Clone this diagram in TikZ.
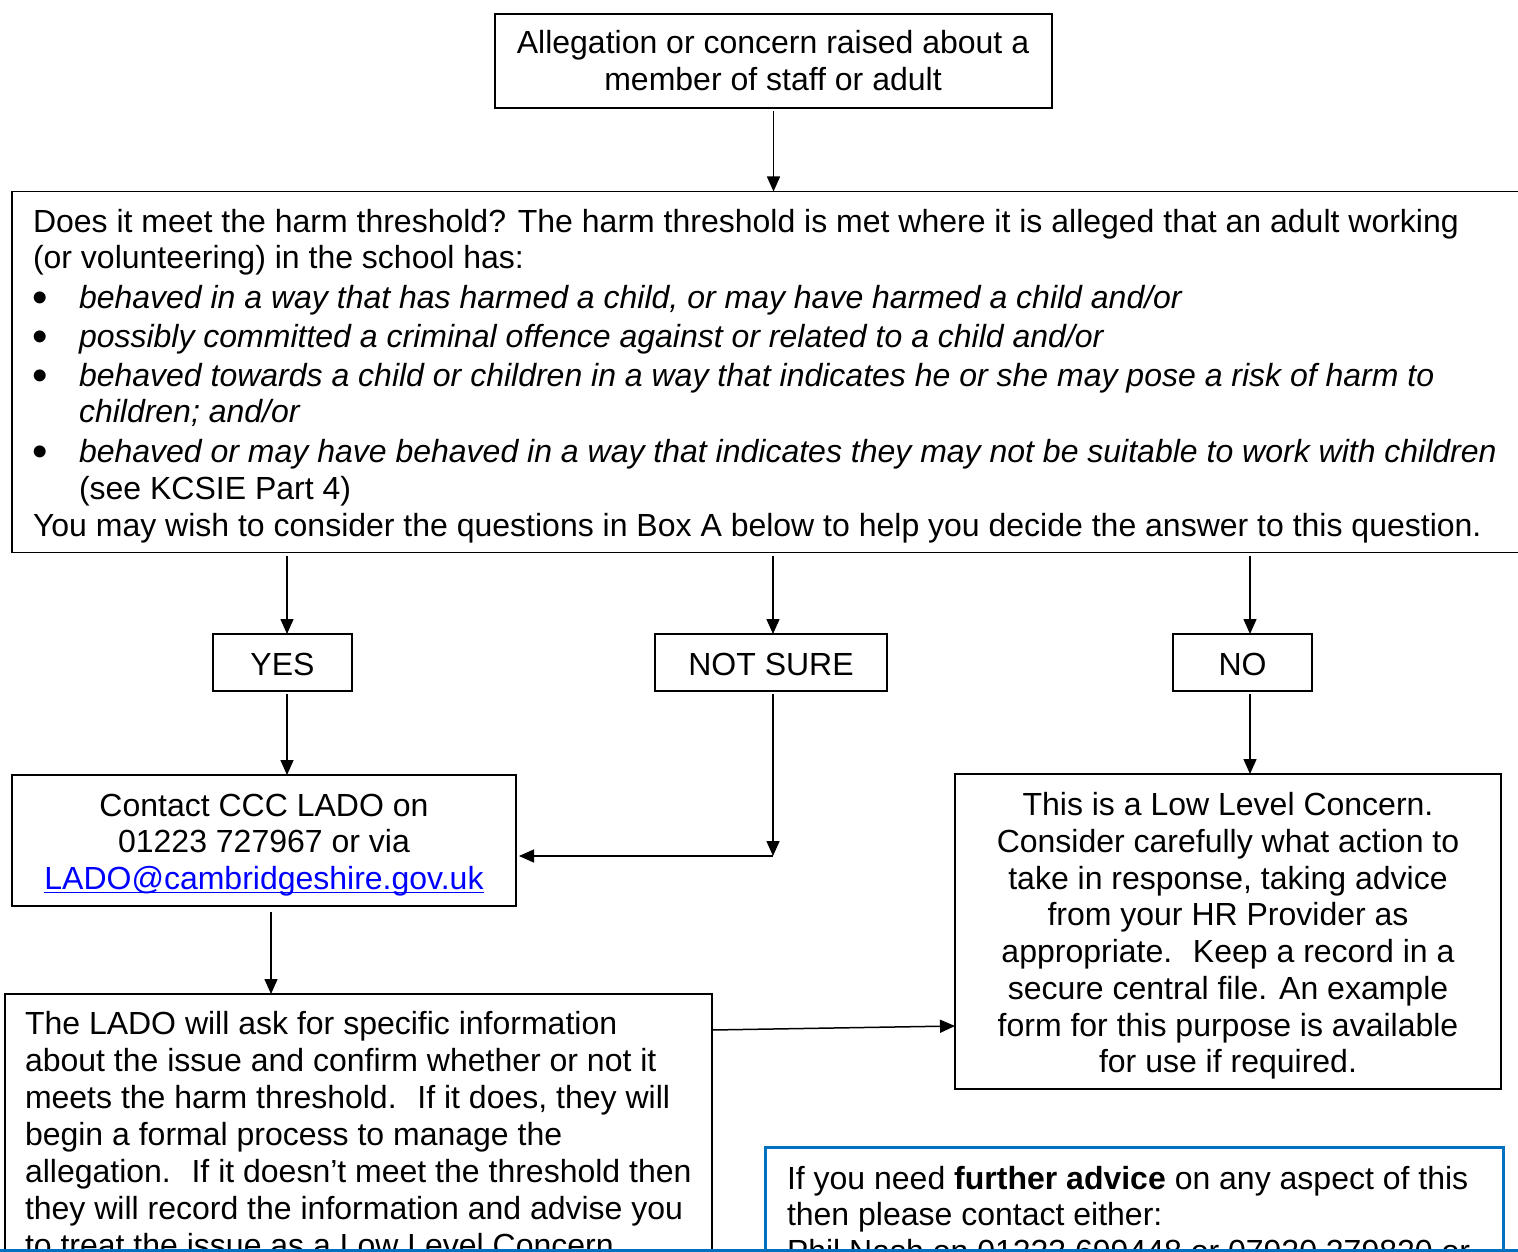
\documentclass[tikz,border=0pt]{standalone}
\usepackage{fontspec}
\setmainfont{Liberation Sans}
\usetikzlibrary{arrows.meta}
\definecolor{bluebox}{RGB}{0,112,192}
\definecolor{linkblue}{RGB}{0,0,255}
\begin{document}
\begin{tikzpicture}[x=1pt,y=-1pt,
  box/.style={draw, line width=1.6pt, inner sep=0pt, outer sep=0pt, anchor=north west},
  txt/.style={inner sep=0pt, outer sep=0pt, font=\fontsize{32}{37}\selectfont},
  ltxt/.style={txt, anchor=base west},
  ctxt/.style={txt, anchor=base},
  bul/.style={inner sep=0pt, outer sep=0pt, anchor=base west, font=\fontsize{44}{44}\selectfont},
  arr/.style={line width=1.5pt, -{Triangle[length=15pt,width=13pt]}, shorten <=3pt}]
\useasboundingbox (0,0) rectangle (1518,1252);
\fill[white] (0,0) rectangle (1518,1252);
\clip (0,0) rectangle (1518,1252);

% top box
\node[box, minimum width=557pt, minimum height=94pt] (top) at (495,14) {};
\node[ctxt] (t1) at (773,54) {Allegation or concern raised about a};
\node[ctxt] (t2) at (773,91) {member of staff or adult};

% big question box
\node[box, minimum width=1530pt, minimum height=361pt] (big) at (12,191.5) {};
\node[ltxt] (q1) at (33,233) {Does it meet the harm threshold? The harm threshold is met where it is alleged that an adult working};
\node[ltxt] (q2) at (33,269) {(or volunteering) in the school has:};
\node[bul] (b1) at (32,312) {•};
\node[ltxt] (q3) at (79,308) {\itshape behaved in a way that has harmed a child, or may have harmed a child and/or};
\node[bul] (b2) at (32,351) {•};
\node[ltxt] (q4) at (79,347) {\itshape possibly committed a criminal offence against or related to a child and/or};
\node[bul] (b3) at (32,390) {•};
\node[ltxt] (q5) at (79,386) {\itshape behaved towards a child or children in a way that indicates he or she may pose a risk of harm to};
\node[ltxt] (q6) at (79,422) {\itshape children; and/or};
\node[bul] (b4) at (32,466) {•};
\node[ltxt] (q7) at (79,462) {\itshape behaved or may have behaved in a way that indicates they may not be suitable to work with children};
\node[ltxt] (q8) at (79,499) {(see KCSIE Part 4)};
\node[ltxt] (q9) at (33,536) {You may wish to consider the questions in Box A below to help you decide the answer to this question.};

% answer boxes
\node[box, minimum width=139pt, minimum height=57pt] (yes) at (213,634) {};
\node[ctxt] (yest) at (282.5,675.5) {YES};
\node[box, minimum width=232pt, minimum height=57pt] (notsure) at (655,634) {};
\node[ctxt] (notsuret) at (771,675.5) {NOT SURE};
\node[box, minimum width=139pt, minimum height=57pt] (no) at (1173,634) {};
\node[ctxt] (not) at (1242.5,675.5) {NO};

% contact box
\node[box, minimum width=504pt, minimum height=131pt] (contact) at (12,775) {};
\node[ctxt] (c1) at (264,816) {Contact CCC LADO on};
\node[ctxt] (c2) at (264,852) {01223 727967 or via};
\node[ctxt, text=linkblue] (link) at (264,889) {LADO@cambridgeshire.gov.uk};
\draw[linkblue, line width=1.5pt] ([yshift=-3.5pt]link.base west) -- ([yshift=-3.5pt]link.base east);

% low level box
\node[box, minimum width=546pt, minimum height=315pt] (low) at (955,774) {};
\node[ctxt] (l1) at (1228,815) {This is a Low Level Concern.};
\node[ctxt] (l2) at (1228,852) {Consider carefully what action to};
\node[ctxt] (l3) at (1228,889) {take in response, taking advice};
\node[ctxt] (l4) at (1228,925) {from your HR Provider as};
\node[ctxt] (l5) at (1228,962) {appropriate.~ Keep a record in a};
\node[ctxt] (l6) at (1228,999) {secure central file. An example};
\node[ctxt] (l7) at (1228,1036) {form for this purpose is available};
\node[ctxt] (l8) at (1228,1072) {for use if required.};

% LADO box
\node[box, minimum width=707pt, minimum height=400pt] (lado) at (5,994) {};
\node[ltxt] (d1) at (25,1034) {The LADO will ask for specific information};
\node[ltxt] (d2) at (25,1071) {about the issue and confirm whether or not it};
\node[ltxt] (d3) at (25,1108) {meets the harm threshold.~ If it does, they will};
\node[ltxt] (d4) at (25,1145) {begin a formal process to manage the};
\node[ltxt] (d5) at (25,1182) {allegation.~ If it doesn’t meet the threshold then};
\node[ltxt] (d6) at (25,1219) {they will record the information and advise you};
\node[ltxt] (d7) at (25,1256) {to treat the issue as a Low Level Concern.};

% further advice box
\node[box, draw=bluebox, line width=3pt, minimum width=738pt, minimum height=200pt] (advice) at (765,1147) {};
\node[ltxt] (a1) at (787,1189) {If you need \textbf{further advice} on any aspect of this};
\node[ltxt] (a2) at (787,1225) {then please contact either:};
\node[ltxt] (a3) at (787,1262) {Phil Nash on 01223 699448 or 07920 279820 or};

% connectors
\draw[arr] (top.south) -- (top.south |- big.north);
\coordinate (yx) at ([xshift=4.5pt]yes.north);
\coordinate (nsx) at ([xshift=2pt]notsure.north);
\coordinate (nox) at ([xshift=7.5pt]no.north);
\draw[arr] (yx |- big.south) -- (yx);
\draw[arr] (nsx |- big.south) -- (nsx);
\draw[arr] (nox |- big.south) -- (nox);
\coordinate (ys) at ([xshift=4.5pt]yes.south);
\draw[arr] (ys) -- (ys |- contact.north);
\coordinate (nss) at ([xshift=2pt]notsure.south);
\coordinate (bend) at (nss |- 0,856);
\draw[arr] (nss) -- (bend);
\draw[arr, shorten <=0pt, shorten >=3pt] (bend) -- (bend -| contact.east);
\coordinate (nos) at ([xshift=7.5pt]no.south);
\draw[arr] (nos) -- (nos |- low.north);
\coordinate (cs) at ([xshift=7pt]contact.south);
\draw[arr, shorten <=6pt] (cs) -- (cs |- lado.north);
\coordinate (le) at (lado.north east |- 0,1030);
\coordinate (lw) at (low.west |- 0,1026);
\draw[arr, shorten <=0pt] (le) -- (lw);

% blue line along the bottom edge
\draw[bluebox, line width=3.5pt] (0,1250.5) -- (1518,1250.5);
\end{tikzpicture}
\end{document}
